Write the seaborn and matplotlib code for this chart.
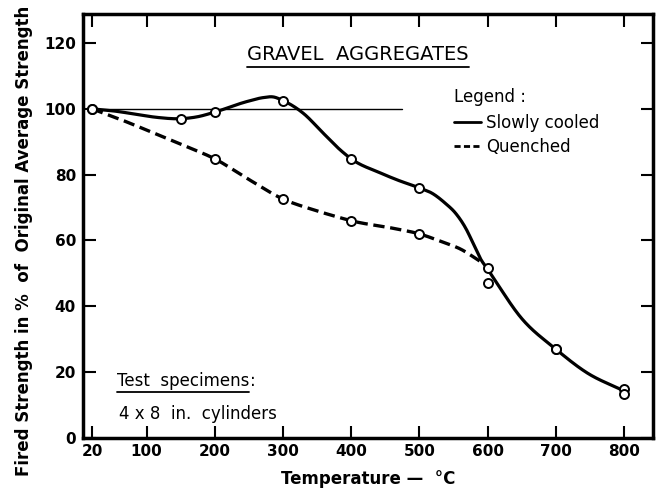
import numpy as np
import pandas as pd
import matplotlib
matplotlib.use("Agg")
import matplotlib.pyplot as plt
import seaborn as sns
from matplotlib.lines import Line2D

# ---- data ----
temps_slow = [20, 150, 200, 300, 400, 500, 600, 700, 800]
strength_slow = [100, 97, 99, 102.5, 84.8, 76, 51.5, 27, 15]
temps_quench = [20, 200, 300, 400, 500, 600, 700, 800]
strength_quench = [100, 84.8, 72.6, 66, 62, 47, 27, 13.5]

# hand-drawn curves
slow_curve_x = [20, 50, 80, 115, 150, 175, 200, 247, 271, 286, 300, 330, 359, 384,
                400, 443, 470, 500, 519, 538, 553, 568, 580, 590, 600, 609, 648,
                700, 745, 800]
slow_curve_y = [100, 99.4, 98.5, 97.4, 97, 97.6, 99, 102.2, 103.4, 103.6, 102.5,
                98.6, 92.6, 87.5, 84.8, 80.5, 78.2, 76, 74.3, 71.3, 68.3, 63.7,
                58.6, 54.3, 51.3, 48.5, 36.8, 27, 19.9, 14.3]
quench_curve_x = [20, 60, 110, 160, 200, 247, 300, 345, 379, 400, 464, 500, 533,
                  563, 580, 591]
quench_curve_y = [100, 96.9, 92.7, 88.4, 84.8, 78.9, 72.6, 69.3, 67.2, 66, 63.6, 62,
                  59.6, 57.1, 54.9, 53.4]

ref_x = [20, 475]
ref_y = [100, 100]

xticks = [20, 100, 200, 300, 400, 500, 600, 700, 800]
yticks = [0, 20, 40, 60, 80, 100, 120]


def smooth(xs, ys, n=800):
    xs = np.asarray(xs, float)
    ys = np.asarray(ys, float)
    m = np.gradient(ys, xs)
    xx = np.linspace(xs[0], xs[-1], n)
    idx = np.clip(np.searchsorted(xs, xx, side="right") - 1, 0, len(xs) - 2)
    h = xs[idx + 1] - xs[idx]
    t = (xx - xs[idx]) / h
    h00 = 2 * t**3 - 3 * t**2 + 1
    h10 = t**3 - 2 * t**2 + t
    h01 = -2 * t**3 + 3 * t**2
    h11 = t**3 - t**2
    yy = h00 * ys[idx] + h10 * h * m[idx] + h01 * ys[idx + 1] + h11 * h * m[idx + 1]
    return xx, yy


sns.set_style("white")
plt.rcParams["font.family"] = ["DejaVu Sans"]
plt.rcParams.update({"text.color": "black", "axes.labelcolor": "black",
                     "xtick.color": "black", "ytick.color": "black"})

fig = plt.figure(figsize=(6.56, 4.91), dpi=100)
ax = fig.add_axes([83 / 656, 1 - 438 / 491, (653 - 83) / 656, (438 - 14) / 491])

sx, sy = smooth(slow_curve_x, slow_curve_y)
qx, qy = smooth(quench_curve_x, quench_curve_y)
slow_df = pd.DataFrame({"T": sx, "S": sy})
quench_df = pd.DataFrame({"T": qx, "S": qy})

sns.lineplot(data=pd.DataFrame({"T": ref_x, "S": ref_y}), x="T", y="S", ax=ax,
             color="black", lw=1.0, sort=False)
sns.lineplot(data=slow_df, x="T", y="S", ax=ax, color="black", lw=2.3, sort=False)
sns.lineplot(data=quench_df, x="T", y="S", ax=ax, color="black", lw=2.4,
             sort=False, linestyle=(0, (3.4, 1.7)))

pts = pd.DataFrame({"T": temps_slow + temps_quench,
                    "S": strength_slow + strength_quench})
sns.scatterplot(data=pts, x="T", y="S", ax=ax, marker="o", s=42,
                facecolor="white", edgecolor="black", linewidth=1.4, zorder=5)

ax.set_xlim(6.8, 842.5)
ax.set_ylim(0, 128.8)
ax.set_xticks(xticks)
ax.set_yticks(yticks)
ax.set_xticklabels([str(v) for v in xticks], fontsize=11, fontweight="bold")
ax.set_yticklabels([str(v) for v in yticks], fontsize=11, fontweight="bold")
ax.tick_params(direction="in", length=9, width=1.5, top=True, right=True,
               bottom=True, left=True, pad=5, colors="black")
ax.tick_params(axis="x", pad=4)
for sp in ax.spines.values():
    sp.set_linewidth(2.5)
    sp.set_color("black")

ax.set_xlabel("Temperature —  °C", fontsize=12, fontweight="bold", labelpad=8)
ax.set_ylabel("Fired Strength in %  of  Original Average Strength", fontsize=12,
              fontweight="bold", labelpad=6)
ax.yaxis.set_label_coords(-0.088, 0.465)

t1 = ax.text(410, 116.4, "GRAVEL  AGGREGATES", fontsize=14, ha="center", va="center")
t2 = ax.text(56, 17.3, "Test  specimens", fontsize=12, ha="left", va="center")
t2b = ax.text(0, 0, ":", fontsize=12, ha="left", va="center")
ax.text(60, 7.3, "4 x 8  in.  cylinders", fontsize=12, ha="left", va="center")

handles = [Line2D([], [], color="black", lw=2.0),
           Line2D([], [], color="black", lw=2.0, linestyle=(0, (2.2, 1.2)))]
leg = ax.legend(handles, ["Slowly cooled", "Quenched"], title="Legend :",
                loc="upper left", bbox_to_anchor=(454 / 656, 1 - 88 / 491),
                bbox_transform=fig.transFigure, frameon=False, fontsize=12,
                title_fontsize=12, handlelength=1.6, handletextpad=0.3,
                labelspacing=0.35, borderpad=0, borderaxespad=0, alignment="left")
leg._legend_box.sep = 6

fig.canvas.draw()
r = fig.canvas.get_renderer()
inv = fig.transFigure.inverted()
for t, dy in [(t1, 3), (t2, 2)]:
    bb = t.get_window_extent(renderer=r)
    (x0, y0), (x1, _) = inv.transform([[bb.x0, bb.y0 - dy], [bb.x1, bb.y0 - dy]])
    fig.add_artist(Line2D([x0, x1], [y0, y0], color="black", lw=1.3,
                          transform=fig.transFigure))
bb = t2.get_window_extent(renderer=r)
t2b.set_transform(matplotlib.transforms.IdentityTransform())
t2b.set_position((bb.x1 + 1, (bb.y0 + bb.y1) / 2))

fig.savefig("out.png", dpi=100)
